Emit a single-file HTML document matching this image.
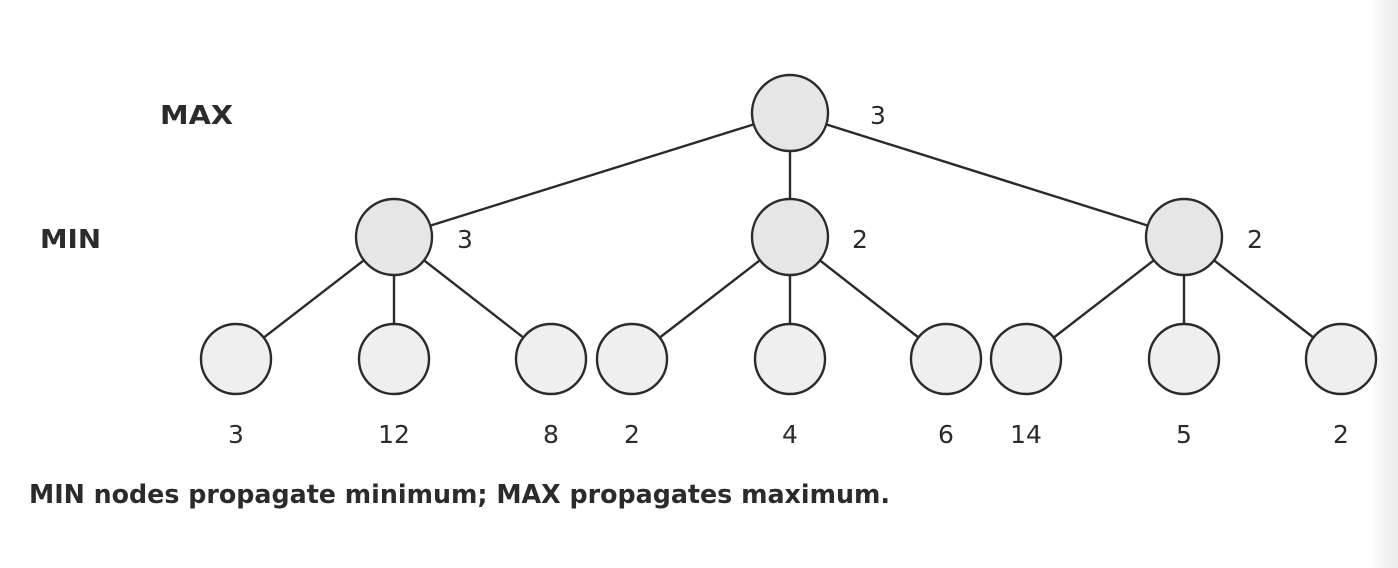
<!DOCTYPE html>
<html><head><style>
html,body{margin:0;padding:0;background:#fff;}
body{width:1398px;height:568px;overflow:hidden;position:relative;}
.strip{position:absolute;left:1370px;top:0;width:28px;height:568px;background:linear-gradient(to right,#fff,#f0f0f0 60%,#ececec);}
</style></head><body>
<div class="strip"></div>
<svg width="1398" height="568" style="position:absolute;left:0;top:0" font-family="'DejaVu Sans','Liberation Sans',sans-serif">
<g stroke="#2b2b2b" stroke-width="2.4">
<line x1="790" y1="113" x2="394" y2="237"/>
<line x1="790" y1="113" x2="790" y2="237"/>
<line x1="790" y1="113" x2="1184" y2="237"/>
<line x1="394" y1="237" x2="236" y2="359"/>
<line x1="394" y1="237" x2="394" y2="359"/>
<line x1="394" y1="237" x2="551" y2="359"/>
<line x1="790" y1="237" x2="632" y2="359"/>
<line x1="790" y1="237" x2="790" y2="359"/>
<line x1="790" y1="237" x2="946" y2="359"/>
<line x1="1184" y1="237" x2="1026" y2="359"/>
<line x1="1184" y1="237" x2="1184" y2="359"/>
<line x1="1184" y1="237" x2="1341" y2="359"/>
</g>
<g stroke="#2b2b2b" stroke-width="2.4" fill="#e6e6e6">
<circle cx="790" cy="113" r="38"/>
<circle cx="394" cy="237" r="38"/>
<circle cx="790" cy="237" r="38"/>
<circle cx="1184" cy="237" r="38"/>
</g>
<g stroke="#2b2b2b" stroke-width="2.4" fill="#efefef">
<circle cx="236" cy="359" r="35"/><circle cx="394" cy="359" r="35"/><circle cx="551" cy="359" r="35"/>
<circle cx="632" cy="359" r="35"/><circle cx="790" cy="359" r="35"/><circle cx="946" cy="359" r="35"/>
<circle cx="1026" cy="359" r="35"/><circle cx="1184" cy="359" r="35"/><circle cx="1341" cy="359" r="35"/>
</g>
<g fill="#2b2b2b" font-size="25" text-anchor="middle">
<text x="878" y="124">3</text>
<text x="465" y="248">3</text>
<text x="860" y="248">2</text>
<text x="1255" y="248">2</text>
<text x="236" y="443">3</text><text x="394" y="443">12</text><text x="551" y="443">8</text>
<text x="632" y="443">2</text><text x="790" y="443">4</text><text x="946" y="443">6</text>
<text x="1026" y="443">14</text><text x="1184" y="443">5</text><text x="1341" y="443">2</text>
</g>
<g fill="#2b2b2b" font-size="26" font-weight="bold">
<text x="160" y="124" textLength="73" lengthAdjust="spacingAndGlyphs">MAX</text>
<text x="40" y="248" textLength="61" lengthAdjust="spacingAndGlyphs">MIN</text>
<text x="29" y="503" textLength="861" lengthAdjust="spacingAndGlyphs">MIN nodes propagate minimum; MAX propagates maximum.</text>
</g>
</svg>
</body></html>
